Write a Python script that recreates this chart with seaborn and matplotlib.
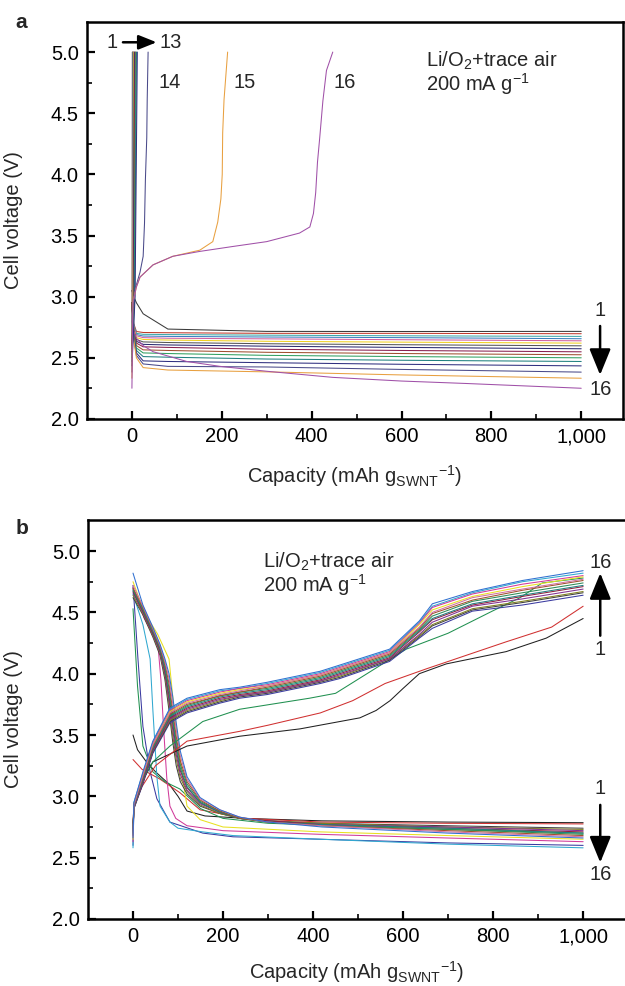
import matplotlib
matplotlib.use("Agg")
import matplotlib.pyplot as plt
from matplotlib.ticker import FixedLocator, FuncFormatter
import seaborn as sns

# ---------------- Panel a data (Li/O2 + trace air, 200 mA/g) ----------------
grid_a = [0, 4, 10, 25, 80, 300, 600, 1000]
dis_a_cap = [grid_a] * 15 + [[0, 4, 10, 25, 47, 122, 196, 300, 447, 600, 744, 1000]]
dis_a_v = [
    [3.05, 3.00, 2.95, 2.86, 2.735, 2.716, 2.715, 2.716],
    [2.95, 2.78, 2.715, 2.707, 2.705, 2.70, 2.70, 2.697],
    [2.95, 2.77, 2.70, 2.692, 2.69, 2.685, 2.68, 2.675],
    [2.95, 2.76, 2.69, 2.678, 2.675, 2.67, 2.665, 2.656],
    [2.95, 2.75, 2.68, 2.665, 2.66, 2.655, 2.648, 2.639],
    [2.95, 2.74, 2.665, 2.65, 2.645, 2.635, 2.628, 2.620],
    [2.95, 2.73, 2.65, 2.63, 2.625, 2.615, 2.607, 2.598],
    [2.95, 2.72, 2.635, 2.61, 2.605, 2.595, 2.585, 2.574],
    [2.95, 2.71, 2.62, 2.59, 2.585, 2.57, 2.56, 2.549],
    [2.95, 2.70, 2.60, 2.565, 2.56, 2.545, 2.535, 2.525],
    [2.95, 2.69, 2.58, 2.54, 2.535, 2.52, 2.51, 2.50],
    [2.95, 2.68, 2.56, 2.51, 2.505, 2.49, 2.48, 2.47],
    [2.95, 2.67, 2.54, 2.475, 2.47, 2.46, 2.447, 2.434],
    [2.95, 2.66, 2.52, 2.45, 2.43, 2.425, 2.405, 2.383],
    [2.95, 2.65, 2.50, 2.42, 2.40, 2.385, 2.36, 2.333],
    [2.80, 2.72, 2.66, 2.60, 2.55, 2.47, 2.43, 2.39, 2.34, 2.31, 2.29, 2.251],
]
chg_a_cap = [
    [0, 0.5, 1], [0, 1, 2], [0, 1.5, 2.5], [0, 2, 3], [0, 2, 3.5],
    [0, 2.5, 4], [0, 3, 5], [0, 4, 6], [0, 4, 7], [0, 5, 8],
    [0, 5, 9], [0, 6, 10], [0, 7, 12],
    [0, 2, 7, 18, 25, 28, 30, 33, 34, 36],
    [0, 2, 10, 18, 47, 91, 151, 180, 191, 198, 201, 202, 205, 213],
    [0, 2, 10, 18, 47, 91, 151, 224, 300, 373, 396, 404, 409, 413, 418, 425, 433, 447],
]
chg_a_v = [
    [2.716, 3.0, 5.0], [2.697, 3.0, 5.0], [2.675, 3.0, 5.0], [2.656, 3.0, 5.0],
    [2.639, 3.0, 5.0], [2.620, 3.0, 5.0], [2.598, 3.0, 5.0], [2.574, 3.0, 5.0],
    [2.549, 3.0, 5.0], [2.525, 3.0, 5.0], [2.50, 3.0, 5.0], [2.47, 3.0, 5.0],
    [2.434, 3.0, 5.0],
    [2.383, 2.9, 3.06, 3.2, 3.33, 3.6, 3.96, 4.3, 4.61, 5.0],
    [2.333, 2.95, 3.08, 3.16, 3.26, 3.33, 3.38, 3.45, 3.61, 3.8, 4.0, 4.34, 4.61, 5.0],
    [2.251, 2.95, 3.08, 3.16, 3.26, 3.33, 3.37, 3.41, 3.45, 3.52, 3.57, 3.68, 3.85,
     4.1, 4.3, 4.6, 4.85, 5.0],
]
colors_a = ['#3a3a3a', '#c0392b', '#40a8a8', '#3a7fc0', '#d060a0', '#f0d020',
            '#555555', '#2a2a70', '#8a2050', '#a05030', '#30a060', '#208080',
            '#303080', '#4a4a8a', '#e8a040', '#a050a8']

# ---------------- Panel b data ----------------
grid_b_dis = [0, 22, 44, 60, 71, 80, 88, 96, 105, 120, 149, 193, 237, 300, 420, 700, 1000]
dis_b_cap = [
    [0, 10, 30, 50, 80, 100, 120, 160, 250, 420, 700, 1000],
    [0, 20, 60, 104, 149, 250, 420, 700, 1000],
    [0, 10, 22, 44, 70, 104, 150, 200, 300, 700, 1000],
    [0, 5, 11, 22, 38, 53, 82, 155, 222, 416, 700, 1000],
    [0, 22, 38, 44, 53, 60, 82, 100, 155, 222, 416, 700, 1000],
    [0, 25, 55, 62, 68, 75, 82, 95, 120, 200, 416, 700, 1000],
    [0, 25, 55, 80, 90, 100, 110, 120, 149, 200, 416, 700, 1000],
] + [grid_b_dis] * 9
dis_b_v = [
    [3.50, 3.38, 3.28, 3.20, 3.10, 3.00, 2.88, 2.84, 2.82, 2.80, 2.79, 2.785],
    [3.30, 3.22, 3.14, 3.03, 2.89, 2.82, 2.79, 2.78, 2.775],
    [4.53, 3.9, 3.41, 3.20, 3.12, 3.06, 2.90, 2.82, 2.78, 2.73, 2.70],
    [4.72, 4.45, 4.12, 3.57, 3.20, 2.98, 2.79, 2.70, 2.67, 2.65, 2.62, 2.60],
    [4.65, 4.40, 4.12, 3.71, 3.16, 2.92, 2.79, 2.74, 2.71, 2.68, 2.65, 2.61, 2.58],
    [4.70, 4.45, 4.25, 3.95, 3.55, 3.15, 2.92, 2.82, 2.76, 2.72, 2.69, 2.66, 2.63],
    [4.75, 4.50, 4.32, 4.12, 3.75, 3.45, 3.15, 2.92, 2.81, 2.75, 2.71, 2.68, 2.65],
    [4.62, 4.48, 4.30, 4.15, 3.95, 3.70, 3.45, 3.25, 3.12, 3.02, 2.92, 2.86, 2.82, 2.80, 2.78, 2.76, 2.74],
    [4.64, 4.49, 4.31, 4.17, 3.98, 3.75, 3.50, 3.30, 3.15, 3.04, 2.93, 2.86, 2.82, 2.80, 2.78, 2.75, 2.73],
    [4.66, 4.50, 4.32, 4.18, 4.00, 3.78, 3.55, 3.34, 3.18, 3.05, 2.94, 2.87, 2.82, 2.80, 2.77, 2.75, 2.72],
    [4.67, 4.51, 4.33, 4.19, 4.02, 3.82, 3.60, 3.38, 3.21, 3.07, 2.95, 2.87, 2.82, 2.80, 2.77, 2.74, 2.71],
    [4.68, 4.52, 4.34, 4.20, 4.04, 3.85, 3.63, 3.41, 3.23, 3.08, 2.95, 2.87, 2.82, 2.79, 2.77, 2.74, 2.70],
    [4.69, 4.53, 4.35, 4.21, 4.06, 3.88, 3.67, 3.45, 3.26, 3.10, 2.96, 2.88, 2.82, 2.79, 2.76, 2.73, 2.69],
    [4.70, 4.54, 4.36, 4.22, 4.08, 3.92, 3.71, 3.49, 3.29, 3.12, 2.97, 2.88, 2.82, 2.79, 2.76, 2.72, 2.68],
    [4.72, 4.55, 4.37, 4.23, 4.10, 3.96, 3.76, 3.54, 3.33, 3.14, 2.98, 2.89, 2.83, 2.79, 2.76, 2.71, 2.67],
    [4.82, 4.56, 4.38, 4.24, 4.12, 4.00, 3.82, 3.60, 3.37, 3.16, 2.99, 2.89, 2.83, 2.79, 2.75, 2.70, 2.66],
]
grid_b_chg = [0, 2, 22, 44, 82, 120, 193, 237, 298, 416, 459, 570, 636, 665, 754, 865, 1000]
chg_b_cap = [
    [0, 2, 20, 44, 120, 237, 371, 504, 540, 571, 600, 636, 696, 829, 918, 1000],
    [0, 2, 20, 50, 120, 237, 300, 416, 488, 560, 652, 829, 930, 1000],
    [0, 2, 20, 44, 82, 155, 237, 392, 450, 607, 700, 798, 860, 909, 1000],
] + [grid_b_chg] * 13
chg_b_v = [
    [2.785, 2.92, 3.12, 3.28, 3.41, 3.49, 3.55, 3.64, 3.70, 3.78, 3.88, 4.00, 4.08, 4.18, 4.29, 4.45],
    [2.775, 2.92, 3.08, 3.25, 3.45, 3.53, 3.58, 3.68, 3.78, 3.92, 4.04, 4.26, 4.38, 4.55],
    [2.70, 2.92, 3.12, 3.28, 3.41, 3.61, 3.71, 3.80, 3.84, 4.20, 4.33, 4.51, 4.62, 4.74, 4.78],
    [2.60, 2.90, 3.10, 3.35, 3.60, 3.68, 3.76, 3.80, 3.83, 3.92, 3.96, 4.10, 4.29, 4.37, 4.51, 4.56, 4.64],
    [2.58, 2.95, 3.19, 3.44, 3.71, 3.79, 3.86, 3.88, 3.92, 4.01, 4.06, 4.19, 4.42, 4.55, 4.66, 4.75, 4.82],
    [2.63, 2.94, 3.18, 3.43, 3.70, 3.78, 3.85, 3.88, 3.91, 4.00, 4.05, 4.18, 4.41, 4.54, 4.65, 4.73, 4.80],
    [2.65, 2.94, 3.17, 3.42, 3.69, 3.77, 3.84, 3.87, 3.90, 3.99, 4.04, 4.17, 4.40, 4.52, 4.63, 4.71, 4.79],
    [2.74, 2.90, 3.11, 3.36, 3.61, 3.69, 3.77, 3.81, 3.84, 3.93, 3.97, 4.11, 4.30, 4.39, 4.52, 4.58, 4.66],
    [2.73, 2.91, 3.12, 3.37, 3.62, 3.70, 3.78, 3.82, 3.85, 3.94, 3.98, 4.12, 4.31, 4.40, 4.53, 4.59, 4.67],
    [2.72, 2.91, 3.12, 3.37, 3.63, 3.71, 3.79, 3.82, 3.85, 3.94, 3.99, 4.12, 4.32, 4.42, 4.55, 4.61, 4.69],
    [2.71, 2.92, 3.13, 3.38, 3.64, 3.72, 3.80, 3.83, 3.86, 3.95, 4.00, 4.13, 4.34, 4.44, 4.56, 4.63, 4.71],
    [2.70, 2.92, 3.14, 3.39, 3.65, 3.73, 3.81, 3.84, 3.87, 3.96, 4.01, 4.14, 4.35, 4.45, 4.57, 4.64, 4.72],
    [2.69, 2.93, 3.15, 3.40, 3.66, 3.74, 3.82, 3.85, 3.88, 3.97, 4.02, 4.15, 4.36, 4.47, 4.59, 4.66, 4.74],
    [2.68, 2.93, 3.16, 3.41, 3.67, 3.75, 3.82, 3.85, 3.89, 3.98, 4.03, 4.16, 4.37, 4.49, 4.60, 4.68, 4.76],
    [2.67, 2.93, 3.17, 3.42, 3.68, 3.76, 3.83, 3.86, 3.90, 3.99, 4.04, 4.17, 4.38, 4.50, 4.62, 4.69, 4.77],
    [2.66, 2.95, 3.20, 3.45, 3.72, 3.80, 3.87, 3.89, 3.93, 4.02, 4.07, 4.20, 4.43, 4.57, 4.67, 4.76, 4.84],
]
colors_b = ['#202020', '#d03030', '#209050', '#3a3aa0', '#30a8d0', '#d03a9a',
            '#e8e020', '#404040', '#808020', '#803090', '#902040', '#208080',
            '#2e8b57', '#a0522d', '#d070a0', '#3070d0']

x_major = [0, 200, 400, 600, 800, 1000]
x_minor = [100, 300, 500, 700, 900]
y_major = [2.0, 2.5, 3.0, 3.5, 4.0, 4.5, 5.0]
y_minor = [2.25, 2.75, 3.25, 3.75, 4.25, 4.75]

# ---------------- Style ----------------
sns.set_theme(style="ticks")
plt.rcParams['font.family'] = ['Liberation Sans', 'DejaVu Sans']
plt.rcParams['mathtext.default'] = 'regular'
plt.rcParams['axes.linewidth'] = 1.8

FS = 14.5
fig = plt.figure(figsize=(6.25, 9.86), dpi=100)
ax_a = fig.add_axes([0.1392, 0.5751, 0.8576, 0.4026])
ax_b = fig.add_axes([0.1408, 0.0680, 0.8592, 0.4047])


def style_axes(ax, ylim_top):
    ax.set_xlim(-100, 1093)
    ax.set_ylim(2.0, ylim_top)
    ax.xaxis.set_major_locator(FixedLocator(x_major))
    ax.xaxis.set_minor_locator(FixedLocator(x_minor))
    ax.yaxis.set_major_locator(FixedLocator(y_major))
    ax.yaxis.set_minor_locator(FixedLocator(y_minor))
    ax.xaxis.set_major_formatter(FuncFormatter(lambda v, p: f"{v:,.0f}"))
    ax.yaxis.set_major_formatter(FuncFormatter(lambda v, p: f"{v:.1f}"))
    ax.tick_params(which='major', direction='in', length=6, width=1.6,
                   labelsize=FS, pad=6, colors='black')
    ax.tick_params(which='minor', direction='in', length=3.5, width=1.4)
    ax.tick_params(top=False, right=False, which='both')
    for s in ax.spines.values():
        s.set_color('black')
        s.set_linewidth(1.8)
    ax.set_ylabel("Cell voltage (V)", fontsize=FS)
    ax.set_xlabel(r"Capacity (mAh g$_{SWNT}$$^{-1}$)", fontsize=FS)
    ax.grid(False)


def draw(ax, caps, volts, colors):
    for c, v, col in zip(caps, volts, colors):
        sns.lineplot(x=c, y=v, ax=ax, color=col, lw=0.75, sort=False,
                     estimator=None, legend=False)


# Panel a
draw(ax_a, dis_a_cap, dis_a_v, colors_a)
draw(ax_a, chg_a_cap, chg_a_v, colors_a)
style_axes(ax_a, 5.246)
ax_a.yaxis.set_label_coords(-0.119, 0.5)
ax_a.xaxis.set_label_coords(0.5, -0.112)

# Panel b
draw(ax_b, dis_b_cap, dis_b_v, colors_b)
draw(ax_b, chg_b_cap, chg_b_v, colors_b)
style_axes(ax_b, 5.254)
ax_b.spines['right'].set_visible(False)
ax_b.yaxis.set_label_coords(-0.121, 0.5)
ax_b.xaxis.set_label_coords(0.5, -0.100)

arrow_big = dict(arrowstyle='-|>,head_length=1.1,head_width=0.45', lw=1.8,
                 color='black', shrinkA=0, shrinkB=0, mutation_scale=FS)

# Annotations panel a
ax_a.text(-44, 5.08, "1", fontsize=FS, ha='center', va='center')
ax_a.annotate('', xy=(55, 5.08), xytext=(-20, 5.08),
              arrowprops=dict(arrowstyle='-|>,head_length=0.75,head_width=0.3',
                              lw=1.8, color='black', shrinkA=0, shrinkB=0,
                              mutation_scale=FS))
ax_a.text(62, 5.08, "13", fontsize=FS, ha='left', va='center')
ax_a.text(84, 4.75, "14", fontsize=FS, ha='center', va='center')
ax_a.text(251, 4.75, "15", fontsize=FS, ha='center', va='center')
ax_a.text(473, 4.75, "16", fontsize=FS, ha='center', va='center')
ax_a.text(655, 4.93, r"Li/O$_2$+trace air", fontsize=FS, ha='left', va='center')
ax_a.text(655, 4.74, r"200 mA g$^{-1}$", fontsize=FS, ha='left', va='center')
ax_a.text(1042, 2.89, "1", fontsize=FS, ha='center', va='center')
ax_a.annotate('', xy=(1042, 2.36), xytext=(1042, 2.76), arrowprops=arrow_big)
ax_a.text(1044, 2.24, "16", fontsize=FS, ha='center', va='center')

# Annotations panel b
ax_b.text(289, 4.91, r"Li/O$_2$+trace air", fontsize=FS, ha='left', va='center')
ax_b.text(289, 4.72, r"200 mA g$^{-1}$", fontsize=FS, ha='left', va='center')
ax_b.text(1038, 4.91, "16", fontsize=FS, ha='center', va='center')
ax_b.annotate('', xy=(1038, 4.82), xytext=(1038, 4.31), arrowprops=arrow_big)
ax_b.text(1038, 4.20, "1", fontsize=FS, ha='center', va='center')
ax_b.text(1038, 3.06, "1", fontsize=FS, ha='center', va='center')
ax_b.annotate('', xy=(1038, 2.46), xytext=(1038, 2.93), arrowprops=arrow_big)
ax_b.text(1038, 2.36, "16", fontsize=FS, ha='center', va='center')

# Panel letters
fig.text(21 / 625, 1 - 22 / 986, "a", fontsize=15, fontweight='bold',
         ha='center', va='center')
fig.text(22 / 625, 1 - 528 / 986, "b", fontsize=15, fontweight='bold',
         ha='center', va='center')

fig.savefig("out.png", dpi=100)
